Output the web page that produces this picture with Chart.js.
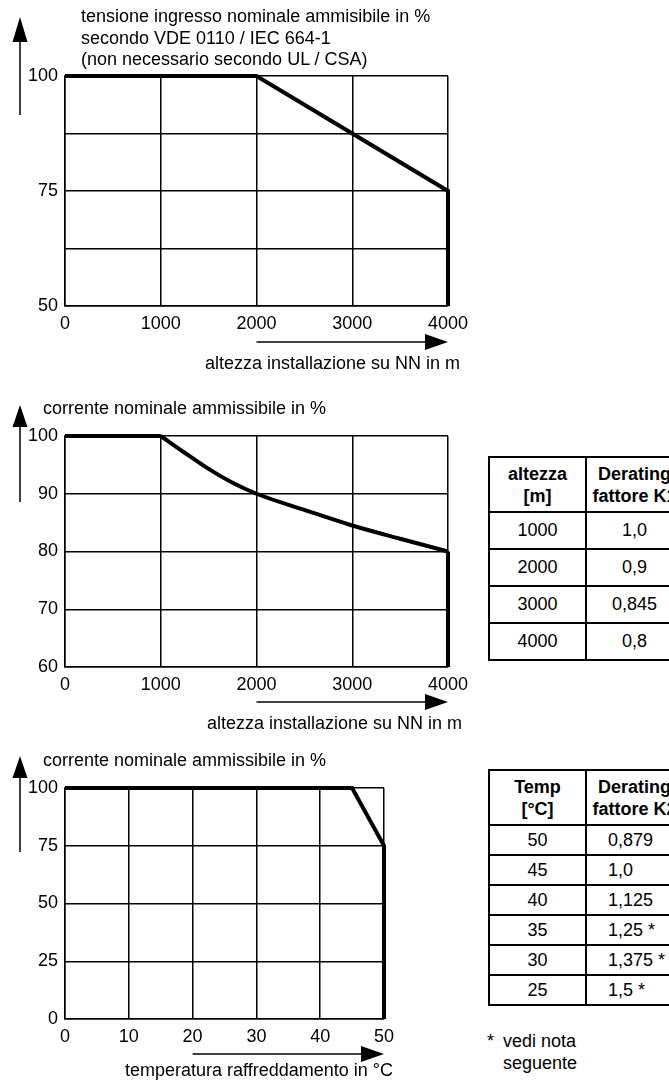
<!DOCTYPE html>
<html>
<head>
<meta charset="utf-8">
<script src="https://cdn.jsdelivr.net/npm/chart.js@4.4.0/dist/chart.umd.min.js"></script>
<style>
  body { margin: 0; background: #fff; }
  #pagina { position: relative; width: 669px; height: 1080px; overflow: hidden; background: #fff;
            font-family: "Liberation Sans", Arial, sans-serif; font-size: 18px; color: #000; }
  canvas { position: absolute; left: 0; }
  .testo { position: absolute; line-height: 21.5px; white-space: nowrap; }
  table { position: absolute; left: 488px; width: 194px; border-collapse: collapse; table-layout: fixed; }
  td, th { border: 2px solid #000; padding: 0; text-align: center; font-size: 18px; white-space: nowrap; overflow: hidden; }
  th { height: 53px; line-height: 22px; }
  #tab1 td { height: 35px; }
  #tab2 td { height: 28px; }
  #tab2 td.sx { text-align: left; padding-left: 21px; }
</style>
</head>
<body>
<div id="pagina">
  <canvas id="grafico1" width="480" height="380" style="top:0px"></canvas>
  <canvas id="grafico2" width="480" height="360" style="top:380px"></canvas>
  <canvas id="grafico3" width="480" height="340" style="top:740px"></canvas>

  <div class="testo" style="left:81px; top:6px">tensione ingresso nominale ammisibile in %<br>secondo VDE 0110 / IEC 664-1<br>(non necessario secondo UL / CSA)</div>
  <div class="testo" style="left:205px; top:353px">altezza installazione su NN in m</div>

  <div class="testo" style="left:43px; top:398px">corrente nominale ammissibile in %</div>
  <div class="testo" style="left:207px; top:713px">altezza installazione su NN in m</div>

  <div class="testo" style="left:43px; top:750px">corrente nominale ammissibile in %</div>
  <div class="testo" style="left:125px; top:1060px">temperatura raffreddamento in °C</div>

  <table id="tab1" style="top:456px"><colgroup><col style="width:97px"><col style="width:97px"></colgroup></table>
  <table id="tab2" style="top:769px"><colgroup><col style="width:97px"><col style="width:97px"></colgroup></table>

  <div class="testo" style="left:487px; top:1031px">*</div>
  <div class="testo" style="left:503px; top:1031px">vedi nota<br>seguente</div>
</div>

<script>
// DATI - grafico 1 (tensione in funzione dell'altezza)
const altezza1 = [0, 2000, 4000, 4000];
const tensione1 = [100, 100, 75, 50];
const yLabels1 = [50, 75, 100];

// DATI - grafico 2 (corrente in funzione dell'altezza)
const altezzaPiano2 = [0, 1000];
const correntePiano2 = [100, 100];
const altezzaCurva2 = [1000, 1250, 1500, 1750, 2000, 2500, 3000, 3500, 4000];
const correnteCurva2 = [100, 97.1, 94.3, 91.9, 90, 87.2, 84.5, 82.2, 80];
const altezzaFine2 = [4000, 4000];
const correnteFine2 = [80, 60];

// DATI - grafico 3 (corrente in funzione della temperatura)
const temperatura3 = [0, 45, 50, 50];
const corrente3 = [100, 100, 75, 0];

// DATI - tabelle
const altezzaTab = [1000, 2000, 3000, 4000];
const fattoreK1 = ["1,0", "0,9", "0,845", "0,8"];
const tempTab = [50, 45, 40, 35, 30, 25];
const fattoreK2 = ["0,879", "1,0", "1,125", "1,25 *", "1,375 *", "1,5 *"];

const FONT = { family: "'Liberation Sans', Arial, sans-serif", size: 18 };

function punti(xs, ys) {
  return xs.map((x, i) => ({ x: x, y: ys[i] }));
}

// frecce degli assi
const frecce = {
  id: "frecce",
  afterDraw(chart, args, opts) {
    const ctx = chart.ctx;
    ctx.save();
    ctx.strokeStyle = "#000";
    ctx.fillStyle = "#000";
    ctx.lineWidth = 1.5;
    // verticale
    const v = opts.y;
    ctx.beginPath();
    ctx.moveTo(20, v.fine);
    ctx.lineTo(20, v.base);
    ctx.stroke();
    ctx.beginPath();
    ctx.moveTo(20, v.punta);
    ctx.lineTo(12.5, v.base);
    ctx.lineTo(27.5, v.base);
    ctx.closePath();
    ctx.fill();
    // orizzontale
    const xs = chart.scales.x;
    const x0 = xs.getPixelForValue(opts.x.da);
    const x1 = xs.getPixelForValue(xs.max);
    const yy = chart.chartArea.bottom + opts.x.sotto;
    ctx.beginPath();
    ctx.moveTo(x0, yy);
    ctx.lineTo(x1 - 22, yy);
    ctx.stroke();
    ctx.beginPath();
    ctx.moveTo(x1, yy);
    ctx.lineTo(x1 - 23, yy - 8);
    ctx.lineTo(x1 - 23, yy + 8);
    ctx.closePath();
    ctx.fill();
    ctx.restore();
  }
};

function serie(data, monotone) {
  return {
    data: data,
    borderColor: "#000",
    borderWidth: 4,
    pointRadius: 0,
    tension: 0,
    cubicInterpolationMode: monotone ? "monotone" : "default",
    borderJoinStyle: "miter",
    clip: false
  };
}

function disegnaGrafico(id, datasets, cfg) {
  return new Chart(document.getElementById(id), {
    type: "line",
    data: { datasets: datasets },
    options: {
      responsive: false,
      animation: false,
      devicePixelRatio: 1,
      layout: { padding: cfg.padding },
      plugins: { legend: { display: false }, tooltip: { enabled: false }, frecce: cfg.frecce },
      scales: {
        x: {
          type: "linear",
          min: cfg.xMin, max: cfg.xMax,
          afterFit: (s) => { s.height = 30; },
          grid: { color: "#000", lineWidth: 1.5, drawTicks: false },
          border: { color: "#000", width: 1.5 },
          ticks: { stepSize: cfg.xStep, color: "#000", font: FONT, padding: 7, maxRotation: 0,
                   callback: (v) => String(v) }
        },
        y: {
          min: cfg.yMin, max: cfg.yMax,
          afterFit: (s) => { s.width = 65; },
          grid: { color: "#000", lineWidth: 1.5, drawTicks: false },
          border: { color: "#000", width: 1.5 },
          ticks: {
            stepSize: cfg.yStep, color: "#000", font: FONT, padding: 7,
            callback: (v) => (cfg.yLabels ? (cfg.yLabels.includes(v) ? String(v) : "") : String(v))
          }
        }
      }
    },
    plugins: [frecce]
  });
}

disegnaGrafico("grafico1", [serie(punti(altezza1, tensione1), false)], {
  padding: { top: 76, left: 0, right: 32, bottom: 44 },
  xMin: 0, xMax: 4000, xStep: 1000,
  yMin: 50, yMax: 100, yStep: 12.5, yLabels: yLabels1,
  frecce: { y: { punta: 17, base: 42, fine: 115 }, x: { da: 2000, sotto: 36 } }
});

disegnaGrafico("grafico2", [
  serie(punti(altezzaPiano2, correntePiano2), false),
  serie(punti(altezzaCurva2, correnteCurva2), true),
  serie(punti(altezzaFine2, correnteFine2), false)
], {
  padding: { top: 56, left: 0, right: 32, bottom: 43 },
  xMin: 0, xMax: 4000, xStep: 1000,
  yMin: 60, yMax: 100, yStep: 10,
  frecce: { y: { punta: 25, base: 47, fine: 122 }, x: { da: 2000, sotto: 35 } }
});

disegnaGrafico("grafico3", [serie(punti(temperatura3, corrente3), false)], {
  padding: { top: 48, left: 0, right: 96, bottom: 31 },
  xMin: 0, xMax: 50, xStep: 10,
  yMin: 0, yMax: 100, yStep: 25,
  frecce: { y: { punta: 16, base: 38, fine: 112 }, x: { da: 20, sotto: 35 } }
});

// TABELLE
function disegnaTabella(id, testa, col1, col2, classe2) {
  let html = `<tr><th>${testa[0]}</th><th>${testa[1]}</th></tr>`;
  for (let i = 0; i < col1.length; i++) {
    html += `<tr><td>${col1[i]}</td><td class="${classe2}">${col2[i]}</td></tr>`;
  }
  document.getElementById(id).insertAdjacentHTML("beforeend", html);
}

disegnaTabella("tab1", ["altezza<br>[m]", "Derating<br>fattore K1"], altezzaTab, fattoreK1, "");
disegnaTabella("tab2", ["Temp<br>[°C]", "Derating<br>fattore K2"], tempTab, fattoreK2, "sx");
</script>
</body>
</html>
